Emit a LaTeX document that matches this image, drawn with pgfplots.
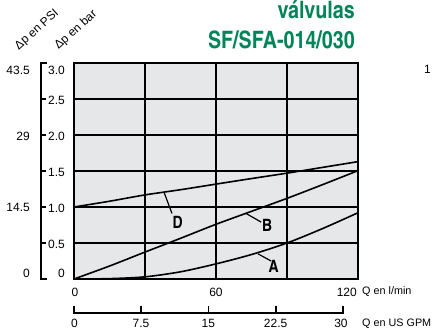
\documentclass[border=0pt]{standalone}
\usepackage{fontspec}
\setmainfont{Liberation Sans}
\newfontfamily\cn{texgyreheroscn}[Extension=.otf,UprightFont=*-regular,BoldFont=*-bold]
\usepackage{pgfplots}
\pgfplotsset{compat=1.18}
\definecolor{plotbg}{RGB}{230,231,233}
\definecolor{titlegreen}{RGB}{0,133,88}

\begin{document}
\begin{tikzpicture}[x=1pt,y=1pt]
\useasboundingbox (0,0) rectangle (432,335);
\begin{axis}[
  at={(74pt,56pt)}, anchor=south west,
  scale only axis, width=284pt, height=216pt,
  xmin=0, xmax=120, ymin=0, ymax=3,
  xtick={0,30,...,120}, ytick={0,0.5,...,3},
  xticklabels={}, yticklabels={},
  major tick length=0pt,
  grid=major, grid style={black,line width=1.8pt},
  axis line style={black,line width=1.8pt},
  axis background/.style={fill=plotbg},
  clip=false,
]
% curva D
\addplot[black,line width=1.6pt,smooth] coordinates {
  (0,1.0) (15,1.08) (30,1.168) (45,1.24) (60,1.318) (75,1.395) (90,1.47) (105,1.55) (120,1.63)};
% curva B
\addplot[black,line width=1.6pt,smooth] coordinates {
  (0,0) (15,0.18) (30,0.374) (45,0.565) (60,0.76) (75,0.94) (90,1.12) (105,1.31) (120,1.505)};
% curva A
\addplot[black,line width=1.6pt,smooth] coordinates {
  (0,0) (15,0.005) (30,0.03) (45,0.1) (60,0.21) (75,0.34) (90,0.5) (105,0.7) (120,0.92)};

% etichette
\draw[line width=1.2pt] (axis cs:38.1,1.2) -- (axis cs:41.4,0.91);
\node[font=\cn\bfseries\fontsize{17}{17}\selectfont] at (axis cs:43.8,0.78) {D};
\draw[line width=1.2pt] (axis cs:72.7,0.91) -- (axis cs:79.1,0.79);
\node[font=\cn\bfseries\fontsize{17}{17}\selectfont] at (axis cs:81.6,0.75) {B};
\draw[line width=1.2pt] (axis cs:77.7,0.35) -- (axis cs:83.3,0.25);
\node[font=\cn\bfseries\fontsize{17}{17}\selectfont] at (axis cs:84.4,0.17) {A};
\end{axis}

\tikzset{lbl/.style={font=\fontsize{12}{14}\selectfont,inner sep=0pt}}

% scala bar / PSI
\draw[line width=1.8pt] (47,272) -- (41,272) -- (41,56) -- (47,56);
\foreach \y in {92,128,164,200,236} \draw[line width=1.8pt] (41,\y) -- (46,\y);
\node[lbl,anchor=east] at (65,265) {3.0};
\node[lbl,anchor=east] at (65,235) {2.5};
\node[lbl,anchor=east] at (65,199) {2.0};
\node[lbl,anchor=east] at (65,163) {1.5};
\node[lbl,anchor=east] at (65,127) {1.0};
\node[lbl,anchor=east] at (65,91) {0.5};
\node[lbl,anchor=east] at (65,62) {0};
\node[lbl,anchor=east] at (30,265) {43.5};
\node[lbl,anchor=east] at (30,199) {29};
\node[lbl,anchor=east] at (30,128) {14.5};
\node[lbl,anchor=east] at (30,62) {0};

% scala l/min
\node[lbl] at (75,43) {0};
\node[lbl] at (216,43) {60};
\node[lbl,anchor=east] at (357,43) {120};
\node[lbl,anchor=west,font=\fontsize{10.8}{13}\selectfont] at (362,43) {Q en l/min};

% scala US GPM
\draw[line width=1.8pt] (74,29) -- (74,22) -- (342.7,22) -- (342.7,29);
\foreach \x in {141.2,208.4,275.6} \draw[line width=1.8pt] (\x,22) -- (\x,29);
\node[lbl] at (74.5,11.5) {0};
\node[lbl] at (141,11.5) {7.5};
\node[lbl] at (208.4,11.5) {15};
\node[lbl] at (275.6,11.5) {22.5};
\node[lbl] at (341,11.5) {30};
\node[lbl,anchor=west,font=\fontsize{10.8}{13}\selectfont] at (362,11.5) {Q en US GPM};

% titoli assi
\node[font=\fontsize{12}{14}\selectfont,rotate=42,inner sep=0pt] at (37,305) {Δp en PSI};
\node[font=\fontsize{12}{14}\selectfont,rotate=42,inner sep=0pt] at (76,305) {Δp en bar};

% titolo
\node[font=\cn\bfseries\fontsize{24}{24}\selectfont,text=titlegreen,anchor=base east,inner sep=0pt] at (355,316) {válvulas};
\node[font=\cn\bfseries\fontsize{24}{24}\selectfont,text=titlegreen,anchor=base east,inner sep=0pt] at (355,286) {SF/SFA-014/030};
\node[lbl,anchor=east] at (431,266) {1};
\end{tikzpicture}
\end{document}
